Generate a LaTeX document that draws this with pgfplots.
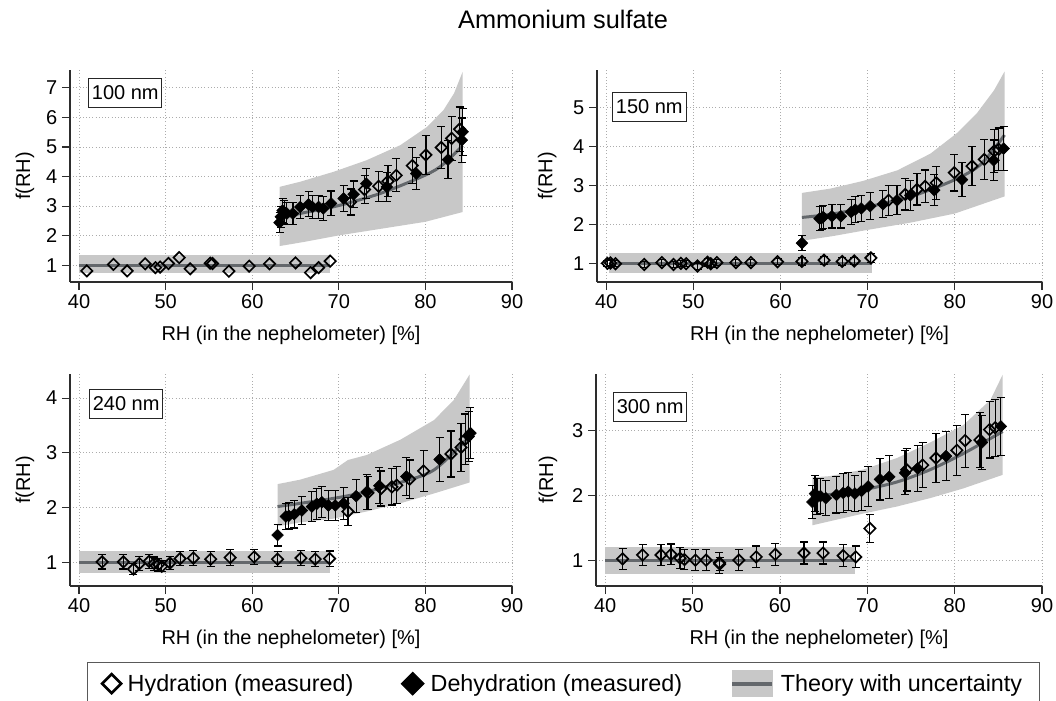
\documentclass[border=0pt]{standalone}
\usepackage{fontspec}
\setmainfont{Liberation Sans}
\usepackage{pgfplots}
\pgfplotsset{compat=1.18}

\definecolor{band}{RGB}{200,200,200}
\definecolor{theory}{RGB}{100,104,108}
\definecolor{axisgray}{RGB}{45,45,45}

\tikzset{
  sizebox/.style={draw=black!85, line width=0.75pt, fill=white, anchor=north west,
    inner xsep=2.5pt, inner ysep=5.5pt, font=\fontsize{15}{18}\selectfont},
}
\pgfplotsset{
  rhpanel/.style={
    scale only axis, height=159pt,
    xmin=38.95, xmax=90, xtick={40,50,...,90},
    axis x line*=bottom, axis y line*=left,
    axis line style={-, line width=0.9pt, axisgray},
    tick align=outside, major tick length=6pt,
    tick style={line width=0.9pt, axisgray},
    grid=major, grid style={dotted, line width=0.6pt, gray!65},
    tick label style={font=\fontsize{15}{18}\selectfont},
    /pgf/number format/assume math mode=true,
    xlabel={RH (in the nephelometer) [\%]}, ylabel={f(RH)},
    every axis x label/.style={at={(axis description cs:0.5,0)}, anchor=base,
      yshift=-43.5pt, font=\fontsize{15}{18}\selectfont},
    every axis y label/.style={at={(axis description cs:#1,0.5)}, anchor=center,
      rotate=90, font=\fontsize{15}{18}\selectfont},
  },
  ebars/.style={
    error bars/y dir=both, error bars/y explicit,
    error bars/error bar style={line width=0.85pt, black},
    error bars/error mark options={rotate=90, black, mark size=3pt, line width=0.85pt},
  },
  hyd/.style={only marks, mark=square, mark size=3pt, mark options={rotate=45, line width=1.25pt, black}},
  dehyd/.style={only marks, mark=square*, mark size=3.1pt, mark options={rotate=45, black, fill=black}},
  bandfill/.style={fill=band, draw=none, forget plot},
  theoryline/.style={theory, line width=2.25pt, no marks, forget plot},
}

\begin{document}
\begin{tikzpicture}
\useasboundingbox (0pt,0pt) rectangle (792pt,-525pt);

\node[font=\fontsize{19}{22}\selectfont, anchor=base] at (422.25pt,-21pt) {Ammonium sulfate};

% ---------- 100 nm ----------
\begin{axis}[rhpanel, at={(52.5pt,-211.5pt)}, anchor=south west, width=331.5pt,
  ymin=0.435, ymax=7.6, ytick={1,2,...,7},
  every axis y label/.append style={at={(axis description cs:-0.102,0.5)}}]
\addplot[bandfill] coordinates {(40,1.34) (68.93,1.34) (68.93,0.75) (40,0.75)} -- cycle;
\addplot[bandfill] coordinates {(63.15,3.65) (65.5,3.82) (69.4,4.16) (73.2,4.55) (77.1,5.06)
  (80.2,5.68) (82.1,6.25) (83.3,6.81) (84.3,7.54) (84.3,2.80) (80,2.47) (75,2.24) (70,2.01)
  (66,1.79) (63.15,1.65)} -- cycle;
\addplot[theoryline] coordinates {(40,1) (68.93,1)};
\addplot[theoryline, smooth] coordinates {(63.15,2.6) (66,2.78) (70,3.02) (75,3.45) (80,4.05) (82,4.4) (84.3,5.05)};
\addplot[hyd] coordinates {(40.89,0.81) (43.97,1.03) (45.55,0.81) (47.63,1.05) (48.82,0.92)
  (49.36,0.94) (50.32,1.06) (51.56,1.26) (52.83,0.88) (55.14,1.07) (55.41,1.06) (57.30,0.80)
  (59.65,0.97) (62.0,1.05) (65.0,1.08) (66.73,0.75) (67.66,0.92) (69.0,1.14)};
\addplot[hyd, ebars] coordinates {
  (71.36,3.14) +- (0,0.44) (72.97,3.56) +- (0,0.48) (74.6,3.67) +- (0,0.5)
  (75.67,3.84) +- (0,0.52) (76.63,4.04) +- (0,0.56) (78.48,4.37) +- (0,0.6)
  (80.06,4.73) +- (0,0.66) (81.83,4.98) +- (0,0.7) (83.03,5.29) +- (0,0.75)
  (83.95,5.60) +- (0,0.75)};
\addplot[dehyd, ebars] coordinates {
  (63.15,2.44) +- (0,0.33) (63.3,2.64) +- (0,0.35) (63.5,2.85) +- (0,0.4)
  (63.69,2.80) +- (0,0.38) (64.0,2.75) +- (0,0.38) (64.7,2.75) +- (0,0.38)
  (65.54,2.97) +- (0,0.4) (66.5,3.06) +- (0,0.42) (66.96,2.97) +- (0,0.4)
  (67.66,2.97) +- (0,0.4) (68.2,2.92) +- (0,0.4) (69.1,3.09) +- (0,0.42)
  (70.55,3.26) +- (0,0.44) (71.7,3.40) +- (0,0.45) (73.17,3.76) +- (0,0.5)
  (75.55,3.65) +- (0,0.5) (78.94,4.10) +- (0,0.55) (82.6,4.57) +- (0,0.65)
  (84.2,5.23) +- (0,0.75) (84.3,5.51) +- (0,0.8)};
\node[sizebox] at (axis description cs:0.041,0.962) {100 nm};
\end{axis}

% ---------- 150 nm ----------
\begin{axis}[rhpanel, at={(447.75pt,-211.5pt)}, anchor=south west, width=333.75pt,
  ymin=0.52, ymax=5.97, ytick={1,2,...,5},
  every axis y label/.append style={at={(axis description cs:-0.112,0.5)}}]
\addplot[bandfill] coordinates {(40.3,1.27) (70.5,1.27) (70.5,0.76) (40.3,0.76)} -- cycle;
\addplot[bandfill] coordinates {(62.46,2.81) (65.7,2.92) (69.5,3.12) (73.4,3.39) (77.2,3.82)
  (80.2,4.34) (82.5,4.85) (84.5,5.45) (85.7,5.93) (85.7,2.72) (80,2.28) (75,2.05) (70,1.86)
  (66,1.70) (62.46,1.58)} -- cycle;
\addplot[theoryline] coordinates {(40.3,1) (70.5,1)};
\addplot[theoryline, smooth] coordinates {(62.46,2.18) (66,2.27) (70,2.45) (75,2.72) (80,3.15) (83,3.55) (85.7,4.3)};
\addplot[hyd, ebars] coordinates {
  (40.15,1.0) +- (0,0.08) (40.5,1.01) +- (0,0.08) (41.07,0.99) +- (0,0.08)
  (44.36,0.97) +- (0,0.08) (46.39,1.02) +- (0,0.08) (47.73,0.97) +- (0,0.08)
  (48.57,1.0) +- (0,0.08) (49.18,0.99) +- (0,0.08) (50.48,0.93) +- (0,0.08)
  (51.63,1.03) +- (0,0.1) (52.0,0.99) +- (0,0.1) (52.7,1.02) +- (0,0.08)
  (54.88,1.02) +- (0,0.08) (56.6,1.02) +- (0,0.08) (59.66,1.04) +- (0,0.08)
  (62.46,1.05) +- (0,0.1) (65.0,1.08) +- (0,0.1) (67.08,1.05) +- (0,0.1)
  (68.46,1.06) +- (0,0.1) (70.37,1.14) +- (0,0.12)
  (72.4,2.62) +- (0,0.38) (74.32,2.77) +- (0,0.4) (75.66,2.90) +- (0,0.4)
  (76.6,2.98) +- (0,0.42) (77.87,3.07) +- (0,0.43) (79.94,3.33) +- (0,0.47)
  (81.97,3.50) +- (0,0.5) (83.38,3.67) +- (0,0.52) (84.53,3.89) +- (0,0.55)
  (85.03,3.93) +- (0,0.55)};
\addplot[dehyd, ebars] coordinates {
  (62.46,1.52) +- (0,0.2) (64.48,2.15) +- (0,0.3) (64.75,2.17) +- (0,0.3)
  (64.9,2.19) +- (0,0.3) (65.9,2.21) +- (0,0.3) (66.93,2.21) +- (0,0.3)
  (68.1,2.32) +- (0,0.32) (68.57,2.38) +- (0,0.33) (69.26,2.41) +- (0,0.34)
  (70.29,2.47) +- (0,0.35) (71.75,2.52) +- (0,0.35) (73.36,2.62) +- (0,0.37)
  (74.89,2.75) +- (0,0.39) (77.64,2.88) +- (0,0.4) (80.82,3.15) +- (0,0.44)
  (84.45,3.65) +- (0,0.52) (85.6,3.95) +- (0,0.56)};
\node[sizebox] at (axis description cs:0.034,0.896) {150 nm};
\end{axis}

% ---------- 240 nm ----------
\begin{axis}[rhpanel, at={(52.5pt,-439.5pt)}, anchor=south west, width=331.5pt,
  ymin=0.57, ymax=4.44, ytick={1,2,3,4},
  every axis y label/.append style={at={(axis description cs:-0.102,0.5)}},
  legend columns=3, legend cell align=left,
  legend style={at={(axis description cs:0.0385,-0.358)}, anchor=north west,
    draw=black!65, line width=0.8pt, font=\fontsize{17.5}{20}\selectfont,
    inner xsep=11pt, inner ysep=6pt,
    /tikz/every even column/.append style={column sep=34pt},
    /tikz/every odd column/.append style={column sep=3pt}}]
\addlegendimage{only marks, mark=square, mark size=5pt, mark options={rotate=45, line width=2pt, black}}
\addlegendimage{only marks, mark=square*, mark size=6pt, mark options={rotate=45, black}}
\addlegendimage{legend image code/.code={
  \fill[band] (0pt,-9.5pt) rectangle (30pt,9.5pt);
  \draw[theory, line width=3pt] (0pt,0pt) -- (30pt,0pt);}}
\legend{Hydration (measured), Dehydration (measured), Theory with uncertainty}
\addplot[bandfill] coordinates {(40,1.2) (69,1.2) (69,0.81) (40,0.81)} -- cycle;
\addplot[bandfill] coordinates {(62.92,2.43) (65.5,2.51) (69.4,2.69) (71.05,2.87) (73.2,2.96)
  (77.1,3.24) (81,3.60) (83.3,3.97) (85.1,4.43) (85.1,2.46) (81,2.26) (77.1,2.08) (73.2,1.93)
  (69.4,1.80) (65.5,1.73) (62.92,1.66)} -- cycle;
\addplot[theoryline] coordinates {(40,1) (69,1)};
\addplot[theoryline, smooth] coordinates {(62.92,2.02) (69.4,2.17) (73.2,2.29) (77.1,2.46) (81,2.69) (85.1,3.3)};
\addplot[hyd, ebars] coordinates {
  (42.66,1.01) +- (0,0.13) (45.12,1.01) +- (0,0.13) (46.28,0.88) +- (0,0.1)
  (46.97,0.98) +- (0,0.13) (48.09,1.02) +- (0,0.13) (48.67,0.98) +- (0,0.12)
  (49.17,0.96) +- (0,0.12) (49.55,0.93) +- (0,0.1) (50.5,0.99) +- (0,0.12)
  (51.67,1.07) +- (0,0.13) (53.2,1.08) +- (0,0.14) (55.2,1.06) +- (0,0.14)
  (57.45,1.09) +- (0,0.14) (60.22,1.10) +- (0,0.14) (62.92,1.06) +- (0,0.14)
  (65.62,1.08) +- (0,0.14) (67.27,1.06) +- (0,0.14) (68.93,1.07) +- (0,0.14)
  (71.05,1.93) +- (0,0.26) (73.36,2.27) +- (0,0.3) (74.86,2.35) +- (0,0.32)
  (76.13,2.38) +- (0,0.33) (76.7,2.41) +- (0,0.34) (78.17,2.52) +- (0,0.35)
  (79.79,2.67) +- (0,0.38) (82.95,2.98) +- (0,0.42) (84.11,3.10) +- (0,0.44)
  (84.6,3.25) +- (0,0.46)};
\addplot[dehyd, ebars] coordinates {
  (62.92,1.50) +- (0,0.2) (63.88,1.84) +- (0,0.24) (64.23,1.85) +- (0,0.24)
  (64.85,1.88) +- (0,0.25) (65.73,1.95) +- (0,0.26) (66.89,2.02) +- (0,0.27)
  (67.46,2.07) +- (0,0.28) (68.04,2.10) +- (0,0.28) (68.8,2.04) +- (0,0.28)
  (69.58,2.04) +- (0,0.28) (70.55,2.08) +- (0,0.29) (72.0,2.21) +- (0,0.3)
  (73.24,2.29) +- (0,0.32) (74.67,2.40) +- (0,0.33) (77.79,2.57) +- (0,0.35)
  (81.64,2.88) +- (0,0.4) (85.0,3.30) +- (0,0.46) (85.2,3.36) +- (0,0.47)};
\node[sizebox] at (axis description cs:0.043,0.929) {240 nm};
\end{axis}

% ---------- 300 nm ----------
\begin{axis}[rhpanel, at={(447pt,-439.5pt)}, anchor=south west, width=334.5pt,
  ymin=0.60, ymax=3.88, ytick={1,2,3},
  every axis y label/.append style={at={(axis description cs:-0.108,0.5)}}]
\addplot[bandfill] coordinates {(40,1.21) (68.58,1.21) (68.58,0.79) (40,0.79)} -- cycle;
\addplot[bandfill] coordinates {(63.72,2.28) (65.7,2.30) (69.5,2.40) (73.4,2.58) (77.2,2.82)
  (81,3.09) (84.1,3.48) (85.5,3.87) (85.5,2.32) (81,2.11) (77.2,1.96) (73.4,1.83) (69.5,1.72)
  (63.72,1.54)} -- cycle;
\addplot[theoryline] coordinates {(40,1) (68.58,1)};
\addplot[theoryline, smooth] coordinates {(63.72,1.98) (69.5,2.09) (73.4,2.21) (77.2,2.40) (81,2.65) (85.5,2.99)};
\addplot[hyd, ebars] coordinates {
  (41.99,1.02) +- (0,0.16) (44.28,1.08) +- (0,0.16) (46.39,1.08) +- (0,0.16)
  (47.54,1.09) +- (0,0.16) (48.57,1.03) +- (0,0.16) (49.07,1.01) +- (0,0.16)
  (50.33,1.0) +- (0,0.16) (51.55,1.0) +- (0,0.16) (53.08,0.96) +- (0,0.16)
  (53.1,0.94) +- (0,0.1) (55.3,1.0) +- (0,0.16) (57.29,1.05) +- (0,0.17)
  (59.47,1.09) +- (0,0.17) (62.76,1.11) +- (0,0.17) (64.94,1.11) +- (0,0.17)
  (67.24,1.07) +- (0,0.17) (68.69,1.05) +- (0,0.17) (70.3,1.49) +- (0,0.22)
  (74.51,2.40) +- (0,0.33) (76.34,2.47) +- (0,0.35) (77.87,2.58) +- (0,0.38)
  (80.25,2.70) +- (0,0.39) (81.2,2.85) +- (0,0.41) (82.9,2.86) +- (0,0.42)
  (83.99,3.02) +- (0,0.44) (84.64,3.05) +- (0,0.44)};
\addplot[dehyd, ebars] coordinates {
  (63.72,1.90) +- (0,0.25) (64.02,2.03) +- (0,0.28) (64.25,1.98) +- (0,0.28)
  (64.64,1.99) +- (0,0.27) (65.25,1.96) +- (0,0.27) (66.47,2.01) +- (0,0.28)
  (67.24,2.04) +- (0,0.3) (67.81,2.06) +- (0,0.29) (68.58,2.03) +- (0,0.28)
  (69.34,2.07) +- (0,0.3) (70.1,2.14) +- (0,0.31) (71.45,2.25) +- (0,0.32)
  (72.52,2.29) +- (0,0.33) (74.32,2.35) +- (0,0.34) (75.77,2.42) +- (0,0.36)
  (79.02,2.61) +- (0,0.38) (83.11,2.82) +- (0,0.42) (85.29,3.07) +- (0,0.45)};
\node[sizebox] at (axis description cs:0.038,0.915) {300 nm};
\end{axis}
\end{tikzpicture}
\end{document}
